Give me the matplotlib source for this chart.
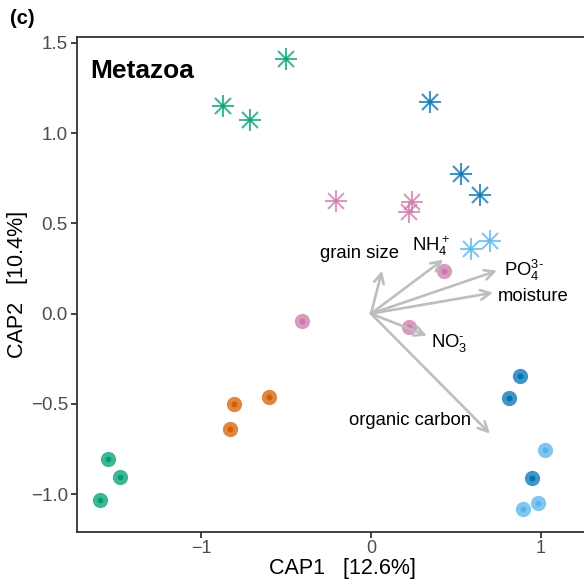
import matplotlib
matplotlib.use("Agg")
import matplotlib.pyplot as plt
import numpy as np

plt.rcParams['font.family'] = ['Liberation Sans', 'DejaVu Sans']
plt.rcParams['mathtext.fontset'] = 'custom'
plt.rcParams['mathtext.rm'] = 'Liberation Sans'
plt.rcParams['mathtext.it'] = 'Liberation Sans:italic'
plt.rcParams['mathtext.bf'] = 'Liberation Sans:bold'

# ---- data ----
colors = {'green': '#009E73', 'darkblue': '#0072B2', 'pink': '#CC79A7',
          'lightblue': '#56B4E9', 'orange': '#D55E00'}

# asterisk samples
star_group = ['green', 'green', 'green', 'darkblue', 'darkblue', 'darkblue',
              'pink', 'pink', 'pink', 'lightblue', 'lightblue']
star_x = [-0.50, -0.873, -0.714, 0.348, 0.531, 0.643, -0.206, 0.242, 0.224, 0.59, 0.702]
star_y = [1.41, 1.151, 1.073, 1.173, 0.774, 0.657, 0.624, 0.619, 0.563, 0.358, 0.402]

# circle samples
circ_group = ['pink', 'pink', 'pink', 'orange', 'orange', 'orange',
              'green', 'green', 'green', 'darkblue', 'darkblue', 'darkblue',
              'lightblue', 'lightblue', 'lightblue']
circ_x = [-0.407, 0.431, 0.224, -0.602, -0.808, -0.832,
          -1.552, -1.481, -1.599, 0.879, 0.814, 0.950,
          1.027, 0.985, 0.897]
circ_y = [-0.041, 0.236, -0.074, -0.462, -0.501, -0.640,
          -0.806, -0.906, -1.033, -0.346, -0.468, -0.911,
          -0.756, -1.050, -1.083]

# environmental vectors
vec_names = ['grain size', r'$\mathrm{NH}_4^+$', r'$\mathrm{PO}_4^{3\text{-}}$', 'moisture',
             r'$\mathrm{NO}_3^{\text{-}}$', 'organic carbon']
vec_x = [0.065, 0.425, 0.743, 0.72, 0.33, 0.702]
vec_y = [0.238, 0.299, 0.238, 0.116, -0.122, -0.665]
lab_x = [-0.07, 0.354, 0.90, 0.956, 0.46, 0.23]
lab_y = [0.335, 0.375, 0.24, 0.095, -0.16, -0.59]

xticks = [-1, 0, 1]
yticks = [-1.0, -0.5, 0.0, 0.5, 1.0, 1.5]

# ---- figure ----
fig = plt.figure(figsize=(5.84, 5.80), dpi=100)
W, H = 584, 580
ax = fig.add_axes([77 / W, 1 - 532 / H, (607 - 77) / W, (532 - 37) / H])
ax.set_xlim(-1.734, 1.392)
ax.set_ylim(-1.21, 1.533)

spine_col = '#333333'
for s in ['left', 'bottom', 'top', 'right']:
    ax.spines[s].set_color(spine_col)
    ax.spines[s].set_linewidth(1.3)

# vectors
for vx, vy in zip(vec_x, vec_y):
    ax.annotate('', xy=(vx, vy), xytext=(0, 0),
                arrowprops=dict(arrowstyle='->,head_length=0.7,head_width=0.35',
                                color='#BEBEBE', lw=1.9, shrinkA=0, shrinkB=0))
for name, lx, ly in zip(vec_names, lab_x, lab_y):
    ax.text(lx, ly, name, fontsize=13.3, ha='center', va='center', color='black')

# circles
for g, x, y in zip(circ_group, circ_x, circ_y):
    c = colors[g]
    ax.plot(x, y, 'o', ms=11, color=c, alpha=0.75, mec='none')
    ax.plot(x, y, 'o', ms=4.2, color=c, mec='none')

# asterisks
for g, x, y in zip(star_group, star_x, star_y):
    c = colors[g]
    ax.plot(x, y, marker='+', ms=16, mew=1.5, color=c, alpha=0.75, ls='none')
    ax.plot(x, y, marker='x', ms=11.5, mew=1.5, color=c, alpha=0.75, ls='none')

ax.set_xticks(xticks)
ax.set_xticklabels(['\u22121', '0', '1'])
ax.set_yticks(yticks)
ax.set_yticklabels(['\u22121.0', '\u22120.5', '0.0', '0.5', '1.0', '1.5'])
ax.tick_params(axis='both', direction='out', length=4, width=1.3, color=spine_col,
               labelcolor='#4D4D4D', labelsize=13.5, pad=2.5)
ax.tick_params(axis='x', labelsize=13, pad=2)

ax.set_xlabel('CAP1   [12.6%]', fontsize=15.5)
ax.set_ylabel('CAP2   [10.4%]', fontsize=15.5)
ax.xaxis.set_label_coords((342 - 77) / 530, (532 - 558) / 495)
ax.yaxis.set_label_coords((28 - 77) / 530, 0.5)

ax.text(13 / 530, 0.955, 'Metazoa', transform=ax.transAxes, fontsize=19,
        fontweight='bold', ha='left', va='top')
fig.text(10 / W, 1 - 18 / H, '(c)', fontsize=14.5, fontweight='bold', ha='left', va='center')

fig.savefig('out.png', dpi=100)
